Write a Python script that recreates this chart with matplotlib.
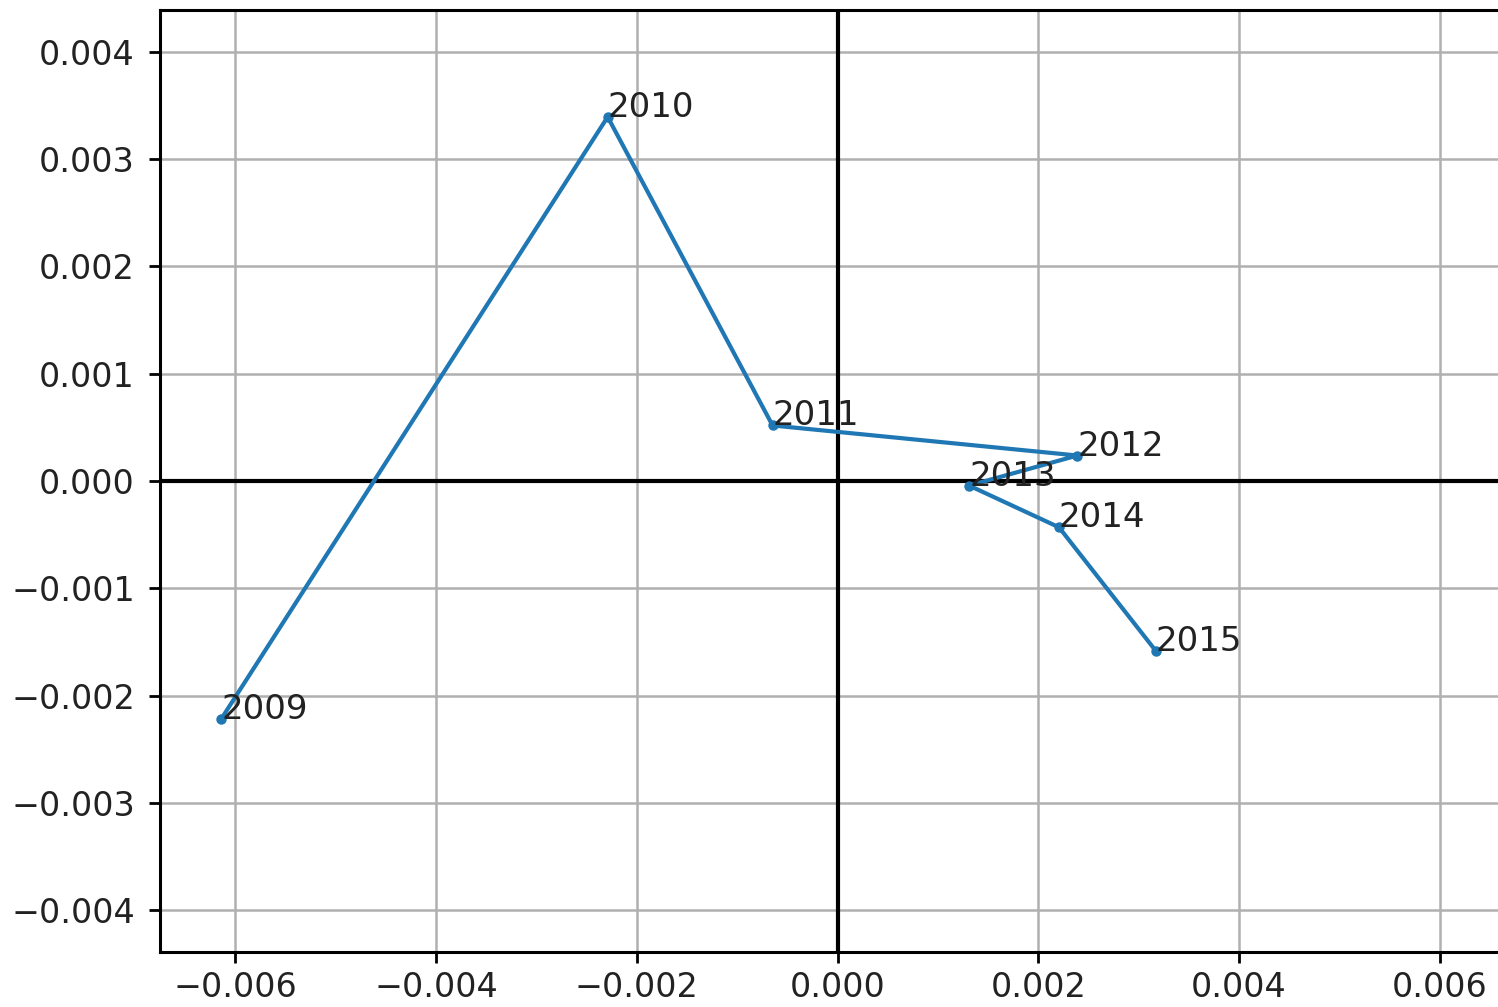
import matplotlib
matplotlib.use("Agg")
import matplotlib.pyplot as plt

years = ["2009", "2010", "2011", "2012", "2013", "2014", "2015"]
x_vals = [-0.00614, -0.00229, -0.000647, 0.002389, 0.00131, 0.002206, 0.003169]
y_vals = [-0.002218, 0.003394, 0.000518, 0.000238, -0.000042, -0.000431, -0.001581]

fig = plt.figure(figsize=(14.98, 10.07), dpi=100)
ax = fig.add_axes([0.1068, 0.0546, 0.9046, 0.9354])

ax.plot(x_vals, y_vals, marker='o', markersize=6.5, linewidth=3, color='#1f77b4', zorder=3)
for yr, xv, yv in zip(years, x_vals, y_vals):
    ax.annotate(yr, (xv, yv), fontsize=24.5, color='#222222', zorder=4)

ax.axhline(0, color='black', linewidth=3, zorder=2)
ax.axvline(0, color='black', linewidth=3, zorder=2)

ax.set_xlim(-0.00675, 0.00675)
ax.set_ylim(-0.00439, 0.00439)
ax.set_xticks([-0.006, -0.004, -0.002, 0.0, 0.002, 0.004, 0.006])
ax.set_yticks([-0.004, -0.003, -0.002, -0.001, 0.0, 0.001, 0.002, 0.003, 0.004])

ax.grid(True, color='#b0b0b0', linewidth=1.8)
ax.set_axisbelow(True)
ax.tick_params(labelsize=24, length=8, width=2, pad=10, labelcolor='#222222')
ax.tick_params(axis='x', pad=6)
for sp in ax.spines.values():
    sp.set_linewidth(2.2)

fig.savefig("out.png", dpi=100)
